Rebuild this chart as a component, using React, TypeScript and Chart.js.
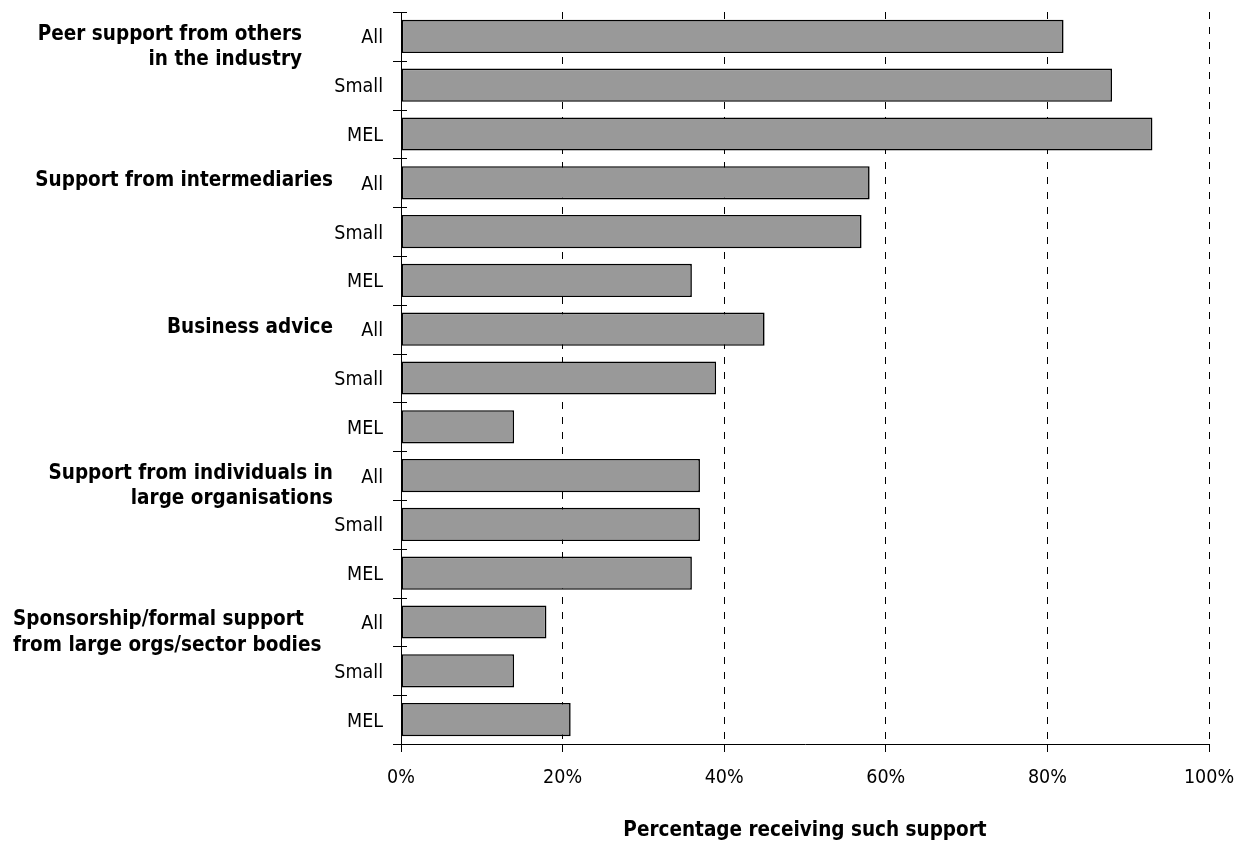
import { useEffect, useRef } from "react";
import { Chart, registerables } from "chart.js";

Chart.register(...registerables);

// Survey segments shown under each kind of support
const segments = ["All", "Small", "MEL"];

// Kinds of support (multi-line titles drawn beside each group)
const groupTitles = [
  ["Peer support from others", "in the industry"],
  ["Support from intermediaries"],
  ["Business advice"],
  ["Support from individuals in", "large organisations"],
  ["Sponsorship/formal support", "from large orgs/sector bodies"],
];

// Percentage receiving each kind of support, per segment (All, Small, MEL)
const peerSupport = [82, 88, 93];
const intermediaries = [58, 57, 36];
const businessAdvice = [45, 39, 14];
const largeOrgIndividuals = [37, 37, 36];
const sponsorship = [18, 14, 21];

const xTicks = [0, 20, 40, 60, 80, 100];
const axisTitle = "Percentage receiving such support";

// Where each group title sits relative to the plot's left edge
const titleLayout = [
  { align: "right", dx: -99 },
  { align: "right", dx: -68 },
  { align: "right", dx: -68 },
  { align: "right", dx: -68 },
  { align: "left", dx: -388 },
];

const FONT = "'DejaVu Sans Condensed', 'DejaVu Sans', sans-serif";
const INK = "#000000";

const seriesByGroup = [peerSupport, intermediaries, businessAdvice, largeOrgIndividuals, sponsorship];
const rowLabels = groupTitles.flatMap(() => segments);
const rowValues = seriesByGroup.flatMap((s) => s);

const decorations = {
  id: "decorations",
  afterDraw(chart: any) {
    const { ctx, chartArea } = chart;
    const y = chart.scales.y;
    const n = rowLabels.length;
    ctx.save();
    // crossing tick marks on the category axis, at each row boundary
    ctx.strokeStyle = INK;
    ctx.lineWidth = 1;
    ctx.beginPath();
    for (let i = 0; i <= n; i++) {
      const py = Math.round(y.getPixelForValue(i - 0.5)) + 0.5;
      ctx.moveTo(chartArea.left - 8, py);
      ctx.lineTo(chartArea.left + 6, py);
    }
    ctx.stroke();

    // group titles
    ctx.fillStyle = INK;
    ctx.font = `bold 20.5px ${FONT}`;
    ctx.textBaseline = "middle";
    groupTitles.forEach((lines, g) => {
      const lay = titleLayout[g];
      const cy = y.getPixelForValue(g * segments.length) - 2;
      ctx.textAlign = lay.align as CanvasTextAlign;
      lines.forEach((line, k) => {
        ctx.fillText(line, chartArea.left + lay.dx, cy + k * 25.5);
      });
    });
    ctx.restore();
  },
};

export default function App() {
  const canvasRef = useRef<HTMLCanvasElement | null>(null);

  useEffect(() => {
    document.body.style.margin = "0";
    const canvas = canvasRef.current;
    if (!canvas) return;
    const chart = new Chart(canvas, {
      type: "bar",
      data: {
        labels: rowLabels,
        datasets: [
          {
            data: rowValues,
            backgroundColor: "#999999",
            borderColor: "#000000",
            borderWidth: 1.6,
            borderSkipped: false,
            barPercentage: 0.68,
            categoryPercentage: 1,
          },
        ],
      },
      options: {
        indexAxis: "y",
        responsive: false,
        maintainAspectRatio: false,
        animation: false,
        devicePixelRatio: 1,
        layout: { padding: { left: 0, right: 39, top: 12, bottom: 0 } },
        plugins: {
          legend: { display: false },
          tooltip: { enabled: false },
        },
        scales: {
          x: {
            type: "linear",
            min: 0,
            max: 100,
            afterBuildTicks: (scale: any) => {
              scale.ticks = xTicks.map((v) => ({ value: v }));
            },
            afterFit: (scale: any) => {
              scale.height = 99;
              scale.paddingLeft = 0;
              scale.paddingRight = 0;
            },
            ticks: {
              color: INK,
              font: { family: FONT, size: 19.5 },
              padding: 14,
              maxRotation: 0,
              callback: (v: any) => `${v}%`,
            },
            grid: {
              color: INK,
              lineWidth: 1,
              drawTicks: true,
              tickLength: 8,
              tickColor: INK,
              tickBorderDash: [],
            },
            border: { display: true, color: INK, width: 1, dash: [7, 8] },
            title: {
              display: true,
              text: axisTitle,
              color: INK,
              font: { family: FONT, size: 20.5, weight: "bold" },
              padding: { top: 4, bottom: 0 },
            },
          },
          y: {
            type: "category",
            offset: true,
            afterFit: (scale: any) => {
              scale.width = 401;
              scale.paddingTop = 0;
              scale.paddingBottom = 0;
            },
            ticks: {
              color: INK,
              font: { family: FONT, size: 19.5 },
              padding: 18,
              labelOffset: 2,
              autoSkip: false,
            },
            grid: { display: false, drawTicks: false },
            border: { display: true, color: INK, width: 1 },
          },
        },
      },
      plugins: [decorations],
    } as any);
    return () => chart.destroy();
  }, []);

  return (
    <div style={{ width: 1248, height: 843 }}>
      <canvas ref={canvasRef} width={1248} height={843} style={{ display: "block", width: 1248, height: 843 }} />
    </div>
  );
}
